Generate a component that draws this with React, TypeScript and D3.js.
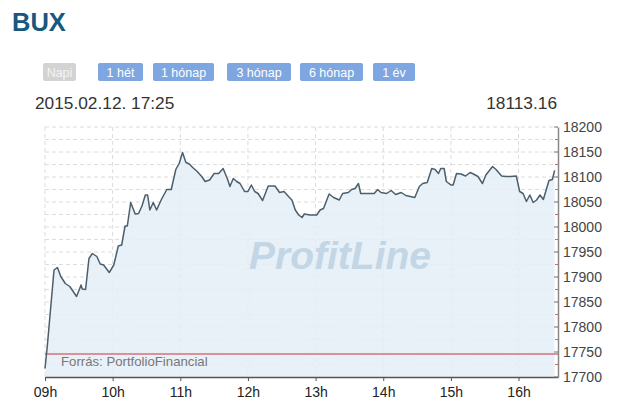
import * as d3 from 'd3';
import { useEffect, useRef } from 'react';

// intraday BUX, 2015.02.12
const times = [
  '09:00', '09:02', '09:08', '09:11', '09:14', '09:18', '09:22', '09:25', '09:28', '09:32',
  '09:33', '09:36', '09:39', '09:42', '09:46', '09:49', '09:52', '09:57', '10:01', '10:05',
  '10:08', '10:11', '10:13', '10:16', '10:20', '10:23', '10:26', '10:29', '10:31', '10:33',
  '10:36', '10:39', '10:43', '10:48', '10:52', '10:56', '10:59', '11:02', '11:05', '11:08',
  '11:11', '11:15', '11:19', '11:22', '11:26', '11:30', '11:34', '11:38', '11:42', '11:44',
  '11:47', '11:50', '11:53', '11:57', '12:00', '12:03', '12:06', '12:09', '12:13', '12:18',
  '12:24', '12:28', '12:32', '12:36', '12:39', '12:42', '12:45', '12:48', '12:50', '12:55',
  '13:01', '13:04', '13:07', '13:12', '13:16', '13:21', '13:24', '13:29', '13:32', '13:35',
  '13:38', '13:40', '13:45', '13:52', '13:55', '13:58', '14:03', '14:07', '14:11', '14:16',
  '14:20', '14:24', '14:28', '14:32', '14:35', '14:39', '14:43', '14:46', '14:49', '14:51',
  '14:54', '14:56', '15:00', '15:02', '15:05', '15:09', '15:13', '15:17', '15:20', '15:24',
  '15:28', '15:31', '15:37', '15:40', '15:45', '15:49', '15:53', '15:58', '16:01', '16:04',
  '16:07', '16:10', '16:13', '16:16', '16:19', '16:22', '16:27', '16:30', '16:32',
];
const values = [
  17717, 17761, 17914, 17919, 17901, 17887, 17881, 17871, 17861, 17884,
  17876, 17875, 17937, 17947, 17941, 17926, 17924, 17909, 17924, 17962,
  17964, 18002, 18002, 18049, 18026, 18027, 18042, 18064, 18064, 18034,
  18049, 18034, 18054, 18075, 18075, 18115, 18127, 18149, 18129, 18126,
  18119, 18111, 18101, 18091, 18094, 18107, 18107, 18117, 18095, 18081,
  18097, 18091, 18087, 18071, 18071, 18084, 18071, 18067, 18053, 18082,
  18082, 18069, 18071, 18061, 18054, 18034, 18024, 18019, 18026, 18024,
  18024, 18034, 18037, 18066, 18059, 18054, 18067, 18069, 18075, 18077,
  18087, 18067, 18067, 18067, 18075, 18069, 18067, 18073, 18065, 18069,
  18063, 18061, 18059, 18081, 18087, 18089, 18117, 18115, 18107, 18117,
  18117, 18091, 18084, 18084, 18107, 18106, 18102, 18109, 18106, 18101,
  18087, 18104, 18121, 18115, 18102, 18101, 18101, 18102, 18071, 18067,
  18051, 18064, 18049, 18054, 18064, 18055, 18093, 18095, 18113.16,
];
const prevClose = 17746;
const hourTicks = ['09:00', '10:00', '11:00', '12:00', '13:00', '14:00', '15:00', '16:00'];
const buttons = ['Napi', '1 hét', '1 hónap', '3 hónap', '6 hónap', '1 év'];
const stamp = '2015.02.12. 17:25';
const lastValue = '18113.16';

const font = 'Arial, "Liberation Sans", sans-serif';

export default function App() {
  const ref = useRef<SVGSVGElement | null>(null);

  useEffect(() => {
    if (!ref.current) return;
    const svg = d3.select(ref.current);
    svg.selectAll('*').remove();

    const width = 620;
    const height = 416;
    const margin = { top: 127, right: 62, bottom: 39, left: 45 };
    const x0 = margin.left;
    const x1 = width - margin.right;
    const y0 = height - margin.bottom;
    const y1 = margin.top;

    const parse = d3.timeParse('%H:%M');
    const data = times.map((t, i) => ({ t: parse(t) as Date, v: values[i] }));

    const x = d3
      .scaleTime()
      .domain([parse('09:00') as Date, parse('16:35') as Date])
      .range([x0, x1]);
    const y = d3.scaleLinear().domain([17700, 18200]).range([y0, y1]);

    // header
    svg.append('text').attr('x', 12).attr('y', 31).text('BUX')
      .style('font-family', font).style('font-size', '25.5px').style('font-weight', 'bold')
      .attr('fill', '#17587f');

    const btnW = [33, 45, 61, 64, 63, 42];
    const btnX = [43, 98, 153, 227, 300, 373];
    buttons.forEach((b, i) => {
      const g = svg.append('g').attr('transform', `translate(${btnX[i]},63)`);
      g.append('rect').attr('width', btnW[i]).attr('height', 18).attr('rx', 2)
        .attr('fill', i === 0 ? '#d3d3d3' : '#7ea6e0');
      g.append('text').attr('x', btnW[i] / 2).attr('y', 13.5).attr('text-anchor', 'middle')
        .text(b).attr('fill', i === 0 ? '#f4f4f4' : '#fff')
        .style('font-family', font).style('font-size', '12.5px');
    });

    svg.append('text').attr('x', 35).attr('y', 109).text(stamp)
      .attr('fill', '#333').style('font-family', font).style('font-size', '17.3px');
    svg.append('text').attr('x', 557).attr('y', 109).attr('text-anchor', 'end').text(lastValue)
      .attr('fill', '#333').style('font-family', font).style('font-size', '17.3px');

    // grid
    const grid = svg.append('g');
    d3.range(17725, 18201, 25).forEach((v) => {
      grid.append('line').attr('x1', x0).attr('x2', x1).attr('y1', y(v)).attr('y2', y(v))
        .attr('stroke', '#dcdcdc').attr('stroke-dasharray', '4,3');
    });
    hourTicks.forEach((h) => {
      const px = x(parse(h) as Date);
      grid.append('line').attr('x1', px).attr('x2', px).attr('y1', y1).attr('y2', y0)
        .attr('stroke', '#dcdcdc').attr('stroke-dasharray', '4,3');
    });

    // area + line
    const area = d3.area<{ t: Date; v: number }>()
      .x((d) => x(d.t)).y0(y0).y1((d) => y(d.v));
    svg.append('path').datum(data).attr('d', area).attr('fill', '#e4eef7').attr('fill-opacity', 0.85);

    // watermark
    svg.append('text').attr('x', 340).attr('y', 269).attr('text-anchor', 'middle').text('ProfitLine')
      .attr('fill', '#c3d6e6').style('font-family', font).style('font-size', '39px')
      .style('font-weight', 'bold').style('font-style', 'italic');

    svg.append('line').attr('x1', x0).attr('x2', x1).attr('y1', y(prevClose)).attr('y2', y(prevClose))
      .attr('stroke', '#d9707a').attr('stroke-width', 1.5);

    svg.append('text').attr('x', 61).attr('y', 366).text('Forrás: PortfolioFinancial')
      .attr('fill', '#777').style('font-family', font).style('font-size', '13.2px');

    const line = d3.line<{ t: Date; v: number }>().x((d) => x(d.t)).y((d) => y(d.v));
    svg.append('path').datum(data).attr('d', line).attr('fill', 'none')
      .attr('stroke', '#4b5f6d').attr('stroke-width', 1.5).attr('stroke-linejoin', 'round');

    // bottom axis
    const xAxis = svg.append('g').attr('transform', `translate(0,${y0})`)
      .call(d3.axisBottom(x).tickValues(hourTicks.map((h) => parse(h) as Date))
        .tickFormat((d) => d3.timeFormat('%Hh')(d as Date)).tickSize(4).tickSizeOuter(0));
    xAxis.select('.domain').attr('stroke', '#555').attr('stroke-width', 1.5);
    xAxis.selectAll('.tick line').attr('stroke', '#555');
    xAxis.selectAll('text').attr('fill', '#222').attr('dy', '0.95em')
      .style('font-family', font).style('font-size', '14px');

    // right axis
    const yAxis = svg.append('g').attr('transform', `translate(${x1},0)`)
      .call(d3.axisRight(y).tickValues(d3.range(17700, 18201, 50)).tickFormat(d3.format('d'))
        .tickSizeInner(0).tickSizeOuter(0).tickPadding(5));
    yAxis.select('.domain').attr('stroke', '#888').attr('stroke-width', 1.5);
    yAxis.selectAll('text').attr('fill', '#444').style('font-family', font).style('font-size', '14px');
    d3.range(17700, 18201, 50).forEach((v) => {
      yAxis.append('line').attr('x1', -4).attr('x2', 0).attr('y1', y(v)).attr('y2', y(v)).attr('stroke', '#777');
    });
    d3.range(17725, 18200, 50).forEach((v) => {
      yAxis.append('line').attr('x1', -3).attr('x2', 0).attr('y1', y(v)).attr('y2', y(v)).attr('stroke', '#d66');
    });
  }, []);

  return (
    <svg
      ref={ref}
      width={620}
      height={416}
      style={{ position: 'absolute', left: 0, top: 0, background: '#fff' }}
    />
  );
}
